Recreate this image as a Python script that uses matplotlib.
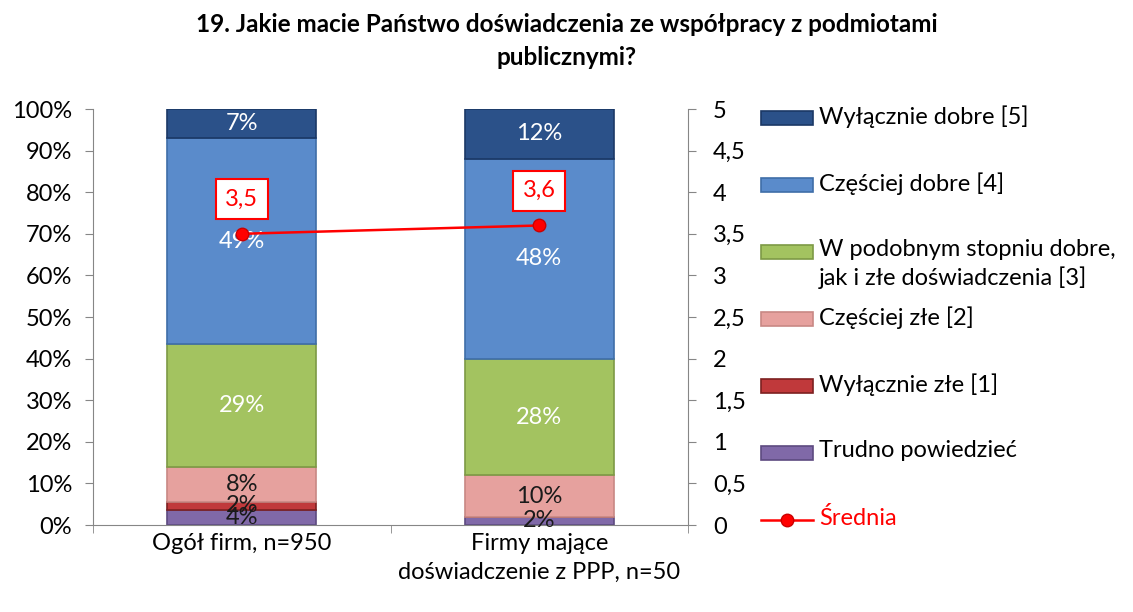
import matplotlib.pyplot as plt
import numpy as np
from matplotlib.patches import Rectangle
from matplotlib.lines import Line2D
from matplotlib.ticker import FuncFormatter, FixedLocator

plt.rcParams['font.family'] = ['Lato', 'DejaVu Sans']

categories = ['Ogół firm, n=950', 'Firmy mające\ndoświadczenie z PPP, n=50']
series = ['Trudno powiedzieć', 'Wyłącznie złe [1]', 'Częściej złe [2]',
          'W podobnym stopniu dobre,\njak i złe doświadczenia [3]',
          'Częściej dobre [4]', 'Wyłącznie dobre [5]']
trudno = [3.6, 2.0]
wyl_zle = [2.0, 0.0]
czesciej_zle = [8.4, 9.9]
podobnie = [29.5, 28.1]
czesciej_dobre = [49.5, 48.0]
wyl_dobre = [7.0, 12.0]
values = [trudno, wyl_zle, czesciej_zle, podobnie, czesciej_dobre, wyl_dobre]
bar_labels = [['4%', '2%'], ['2%', ''], ['8%', '10%'], ['29%', '28%'],
              ['49%', '48%'], ['7%', '12%']]
mean = [3.5, 3.6]
mean_labels = ['3,5', '3,6']

colors = ['#8069a8', '#c0393b', '#e6a19e', '#a3c360', '#5a8bcb', '#2b5189']
edges = ['#5d4a80', '#7d2020', '#c88884', '#7d9a45', '#3f6ea8', '#1b3866']
txtcol = ['#1a1a1a', '#1a1a1a', '#1a1a1a', 'white', 'white', 'white']
FS = 17

fig = plt.figure(figsize=(11.33, 6.12), dpi=100)
ax = fig.add_axes([93 / 1133, 1 - 525 / 612, 595 / 1133, 416 / 612])
ax2 = ax.twinx()

x = np.arange(len(categories))
bottom = np.zeros(len(categories))
for v, lab, c, ec, tc in zip(values, bar_labels, colors, edges, txtcol):
    v = np.array(v, dtype=float)
    ax.bar(x, v, 0.5, bottom=bottom, color=c, edgecolor=ec, linewidth=1.2, zorder=2)
    for i in range(len(x)):
        if lab[i]:
            ax.text(x[i], bottom[i] + v[i] / 2, lab[i], ha='center', va='center',
                    fontsize=FS, color=tc, zorder=5)
    bottom += v

ax.set_xlim(-0.5, 1.5)
ax.set_ylim(0, 100)
ax.set_yticks(np.arange(0, 101, 10))
ax.yaxis.set_major_formatter(FuncFormatter(lambda v, p: f'{int(v)}%'))
ax.set_xticks(x)
ax.set_xticklabels(categories, fontsize=FS, linespacing=1.45)
ax.xaxis.set_minor_locator(FixedLocator([-0.5, 0.5, 1.5]))
ax.tick_params(axis='x', which='major', length=0, pad=6)
ax.tick_params(axis='x', which='minor', length=6, color='#868686')
ax.tick_params(axis='y', labelsize=FS, color='#868686', length=6, pad=9)

ax2.plot(x, mean, color='#ff0000', lw=1.8, marker='o', markersize=9,
         markerfacecolor='#ff0000', markeredgecolor='#cc0000', zorder=6)
for i, m in enumerate(mean):
    ax2.annotate(mean_labels[i], (x[i], m), xytext=(0, 25),
                 textcoords='offset points', ha='center', va='center', fontsize=FS,
                 color='#ff0000',
                 bbox=dict(boxstyle='square,pad=0.4', fc='white', ec='#ff0000', lw=1.5))
ax2.set_ylim(0, 5)
ax2.set_yticks(np.arange(0, 5.01, 0.5))
ax2.yaxis.set_major_formatter(FuncFormatter(lambda v, p: f'{v:g}'.replace('.', ',')))
ax2.tick_params(axis='y', labelsize=FS, color='#868686', length=6, pad=12)

for a in (ax, ax2):
    a.spines['top'].set_visible(False)
    for side in ('left', 'right', 'bottom'):
        a.spines[side].set_color('#868686')
ax.spines['right'].set_visible(False)
ax2.spines['left'].set_visible(False)
ax2.spines['bottom'].set_visible(False)

# legend (Excel style: fixed row pitch, wrapped label overflows below)
W, H = 1133, 612
y0, step = 118, 67
order = list(range(len(series) - 1, -1, -1))
for row, k in enumerate(order):
    yc = y0 + step * row
    fig.add_artist(Rectangle((761 / W, 1 - (yc + 7) / H), 52 / W, 14 / H,
                             transform=fig.transFigure, facecolor=colors[k],
                             edgecolor=edges[k], lw=1.2))
    fig.text(819 / W, 1 - (yc - 13) / H, series[k], ha='left', va='top',
             fontsize=FS, linespacing=1.35)
yc = y0 + step * len(order)
fig.add_artist(Line2D([761 / W, 813 / W], [1 - yc / H] * 2, transform=fig.transFigure,
                      color='#ff0000', lw=1.8))
fig.add_artist(Line2D([787 / W], [1 - yc / H], transform=fig.transFigure, marker='o',
                      markersize=9, color='#ff0000', markeredgecolor='#cc0000'))
fig.text(819 / W, 1 - (yc - 13) / H, 'Średnia', ha='left', va='top', fontsize=FS,
         color='#ff0000')

fig.suptitle('19. Jakie macie Państwo doświadczenia ze współpracy z podmiotami\npublicznymi?',
             x=0.5, y=0.978, fontsize=17.5, fontweight='bold', linespacing=1.5)

fig.savefig('out.png', dpi=100)
